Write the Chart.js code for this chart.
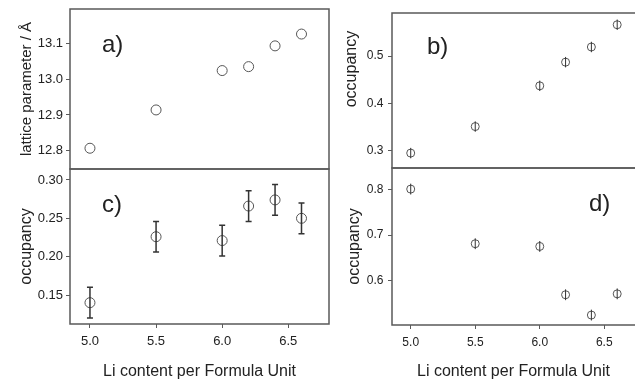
<!DOCTYPE html>
<html>
<head>
<meta charset="utf-8">
<script src="https://cdn.jsdelivr.net/npm/chart.js@4.4.1/dist/chart.umd.min.js"></script>
<style>
  html, body { margin: 0; padding: 0; background: #fff; overflow: hidden; }
  #wrap { position: relative; width: 635px; height: 380px; }
  canvas { position: absolute; }
</style>
</head>
<body>
<div id="wrap">
  <canvas id="pa" width="335" height="172" style="left:0;top:0"></canvas>
  <canvas id="pb" width="300" height="172" style="left:335px;top:0"></canvas>
  <canvas id="pc" width="335" height="220" style="left:0;top:160px"></canvas>
  <canvas id="pd" width="300" height="220" style="left:335px;top:160px"></canvas>
</div>
<script>
/* Data */
const liContent = [5.0, 5.5, 6.0, 6.2, 6.4, 6.6];
const latticeParam = [12.807, 12.914, 13.024, 13.035, 13.093, 13.126];
const occB = [0.295, 0.351, 0.437, 0.487, 0.519, 0.566];
const occBErr = [0.011, 0.011, 0.011, 0.011, 0.011, 0.011];
const occC = [0.140, 0.226, 0.221, 0.266, 0.274, 0.250];
const occCErr = [0.020, 0.020, 0.020, 0.020, 0.020, 0.020];
const occD = [0.802, 0.681, 0.675, 0.568, 0.523, 0.570];
const occDErr = [0.012, 0.012, 0.012, 0.012, 0.012, 0.012];

/* Tick labels */
const xTicks = [5.0, 5.5, 6.0, 6.5];
const aTicks = [12.8, 12.9, 13.0, 13.1];
const bTicks = [0.3, 0.4, 0.5];
const cTicks = [0.15, 0.20, 0.25, 0.30];
const dTicks = [0.6, 0.7, 0.8];

const FONT = "'Liberation Sans', Arial, sans-serif";
const TEXT = '#222';
const LINE = '#5a5a5a';

Chart.defaults.font.family = FONT;
Chart.defaults.color = TEXT;

const framePlugin = {
  id: 'frame',
  afterDraw(chart, args, opts) {
    const { ctx, chartArea: { left, top, right, bottom } } = chart;
    ctx.save();
    ctx.strokeStyle = LINE;
    ctx.lineWidth = 1.5;
    ctx.beginPath();
    if (opts.openRight) {
      ctx.moveTo(right, top);
      ctx.lineTo(left, top);
      ctx.lineTo(left, bottom);
      ctx.lineTo(right, bottom);
    } else {
      ctx.rect(left, top, right - left, bottom - top);
    }
    ctx.stroke();
    ctx.restore();
  },
};

const errorBarPlugin = {
  id: 'errorBars',
  afterDatasetsDraw(chart, args, opts) {
    const { ctx, scales: { x, y } } = chart;
    const ds = chart.data.datasets[0];
    if (!ds.errors) return;
    ctx.save();
    ctx.strokeStyle = opts.color;
    ctx.lineWidth = opts.width;
    ds.data.forEach((pt, i) => {
      const px = x.getPixelForValue(pt.x);
      const y0 = y.getPixelForValue(pt.y - ds.errors[i]);
      const y1 = y.getPixelForValue(pt.y + ds.errors[i]);
      ctx.beginPath();
      ctx.moveTo(px, y0);
      ctx.lineTo(px, y1);
      if (opts.cap) {
        ctx.moveTo(px - opts.cap, y0);
        ctx.lineTo(px + opts.cap, y0);
        ctx.moveTo(px - opts.cap, y1);
        ctx.lineTo(px + opts.cap, y1);
      }
      ctx.stroke();
    });
    ctx.restore();
  },
};

const panelLabelPlugin = {
  id: 'panelLabel',
  afterDraw(chart, args, opts) {
    const { ctx } = chart;
    ctx.save();
    ctx.font = `24px ${FONT}`;
    ctx.fillStyle = TEXT;
    ctx.textAlign = 'left';
    ctx.textBaseline = 'middle';
    ctx.fillText(opts.text, opts.x, opts.y);
    ctx.restore();
  },
};

// keep the plot area exactly where the layout padding puts it
const noLabelPadding = (s) => {
  s.paddingTop = 0;
  s.paddingBottom = 0;
  s.paddingLeft = 0;
  s.paddingRight = 0;
};

const makePanel = (cfg) => {
  const showX = !!cfg.xTitle;
  return new Chart(document.getElementById(cfg.id), {
    type: 'scatter',
    data: {
      datasets: [{
        data: liContent.map((x, i) => ({ x, y: cfg.values[i] })),
        errors: cfg.errors,
        pointRadius: cfg.radius,
        pointBorderWidth: 1,
        pointBorderColor: '#555',
        pointBackgroundColor: 'rgba(0,0,0,0)',
        showLine: false,
      }],
    },
    options: {
      responsive: false,
      animation: false,
      events: [],
      layout: { padding: cfg.padding, autoPadding: false },
      scales: {
        x: {
          type: 'linear',
          display: showX,
          min: cfg.xMin,
          max: cfg.xMax,
          afterBuildTicks: (s) => { s.ticks = xTicks.map((value) => ({ value })); },
          afterFit: (s) => {
            s.height = cfg.xHeight || 0;
            noLabelPadding(s);
          },
          ticks: {
            font: { size: cfg.tickSize },
            padding: 6,
            maxRotation: 0,
            callback: (v) => v.toFixed(1),
          },
          grid: { drawOnChartArea: false, drawTicks: true, tickLength: 4, color: LINE },
          border: { display: false },
          title: {
            display: showX,
            text: cfg.xTitle,
            font: { size: 16 },
            padding: { top: 0, bottom: -1 },
          },
        },
        y: {
          min: cfg.yMin,
          max: cfg.yMax,
          afterBuildTicks: (s) => { s.ticks = cfg.yTicks.map((value) => ({ value })); },
          afterFit: (s) => {
            s.width = cfg.yWidth;
            noLabelPadding(s);
          },
          ticks: {
            font: { size: cfg.tickSize },
            padding: cfg.tickPad,
            callback: (v) => v.toFixed(cfg.decimals),
          },
          grid: { drawOnChartArea: false, drawTicks: true, tickLength: 4, color: LINE },
          border: { display: false },
          title: {
            display: true,
            text: cfg.yTitle,
            align: cfg.yTitleAlign || 'center',
            font: { size: cfg.yTitleSize || 16 },
            padding: { top: cfg.yTitlePad, bottom: 0 },
          },
        },
      },
      plugins: {
        legend: { display: false },
        tooltip: { enabled: false },
        frame: { openRight: !!cfg.openRight },
        errorBars: cfg.errorStyle || {},
        panelLabel: cfg.label,
      },
    },
    plugins: [framePlugin, errorBarPlugin, panelLabelPlugin],
  });
};

makePanel({
  id: 'pa',
  values: latticeParam,
  radius: 5,
  xMin: 4.849, xMax: 6.808,
  yMin: 12.749, yMax: 13.196,
  yTicks: aTicks, decimals: 1,
  yWidth: 70, tickSize: 13, tickPad: 3,
  yTitle: 'lattice parameter / Å', yTitleSize: 15, yTitlePad: 18,
  padding: { top: 9, right: 6, bottom: 3, left: 0 },
  label: { text: 'a)', x: 102, y: 45 },
});

makePanel({
  id: 'pb',
  values: occB,
  errors: occBErr,
  errorStyle: { color: '#333', width: 1, cap: 0 },
  radius: 4,
  xMin: 4.855, xMax: 6.738,
  yMin: 0.2635, yMax: 0.5908,
  yTicks: bTicks, decimals: 1,
  yWidth: 57, tickSize: 12, tickPad: 4.5,
  yTitle: 'occupancy    ', yTitleAlign: 'end', yTitlePad: 7,
  padding: { top: 13, right: 0, bottom: 4, left: 0 },
  openRight: true,
  label: { text: 'b)', x: 92, y: 47 },
});

makePanel({
  id: 'pc',
  values: occC,
  errors: occCErr,
  errorStyle: { color: '#333', width: 1.5, cap: 3 },
  radius: 5,
  xMin: 4.849, xMax: 6.808, xHeight: 56,
  xTitle: 'Li content per Formula Unit',
  yMin: 0.1122, yMax: 0.3143,
  yTicks: cTicks, decimals: 2,
  yWidth: 70, tickSize: 13, tickPad: 3,
  yTitle: 'occupancy', yTitlePad: 17.4,
  padding: { top: 9, right: 6, bottom: 0, left: 0 },
  label: { text: 'c)', x: 102, y: 45 },
});

makePanel({
  id: 'pd',
  values: occD,
  errors: occDErr,
  errorStyle: { color: '#333', width: 1, cap: 0 },
  radius: 4,
  xMin: 4.855, xMax: 6.738, xHeight: 55,
  xTitle: 'Li content per Formula Unit',
  yMin: 0.501, yMax: 0.8487,
  yTicks: dTicks, decimals: 1,
  yWidth: 57, tickSize: 12, tickPad: 4.5,
  yTitle: 'occupancy', yTitlePad: 9.5,
  padding: { top: 8, right: 0, bottom: 0, left: 0 },
  openRight: true,
  label: { text: 'd)', x: 254, y: 44 },
});
</script>
</body>
</html>
